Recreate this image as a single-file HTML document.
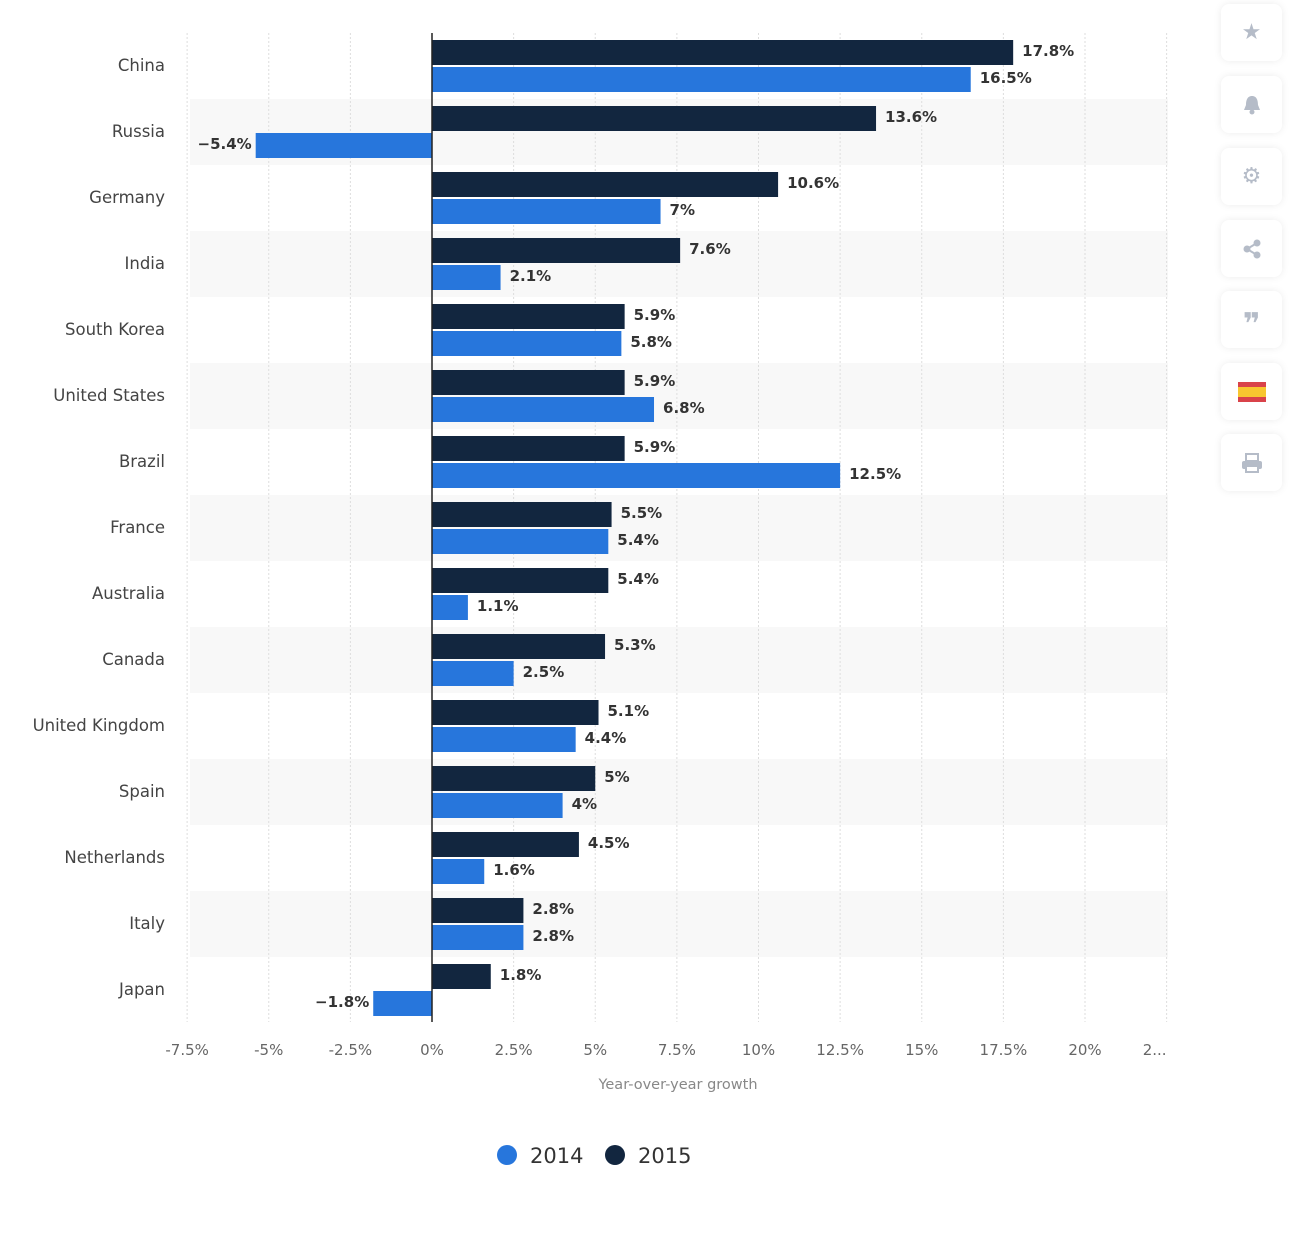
<!DOCTYPE html>
<html><head><meta charset="utf-8"><style>
body{margin:0;background:#fff;width:1296px;height:1233px;overflow:hidden;font-family:"DejaVu Sans",sans-serif}
.btn{position:absolute;left:1221px;width:61px;height:57px;background:#fff;border-radius:8px;box-shadow:0 0 8px rgba(0,0,0,0.08);display:flex;align-items:center;justify-content:center;color:#b5bcc8;font-size:22px}
</style></head><body>
<svg id="chart" width="1210" height="1233" style="position:absolute;left:0;top:0;font-family:'DejaVu Sans',sans-serif"></svg>
<div class="btn" style="top:4px">★</div>
<div class="btn" style="top:76px"><svg width="20" height="22"><path d="M10 2C5 2 4 7 4 11L2 16H18L16 11C16 7 15 2 10 2Z" fill="#b5bcc8"/><circle cx="10" cy="18" r="2.5" fill="#b5bcc8"/></svg></div>
<div class="btn" style="top:148px">⚙</div>
<div class="btn" style="top:220px"><svg width="20" height="20"><circle cx="15" cy="4" r="3.5" fill="#b5bcc8"/><circle cx="5" cy="10" r="3.5" fill="#b5bcc8"/><circle cx="15" cy="16" r="3.5" fill="#b5bcc8"/><path d="M15 4L5 10L15 16" stroke="#b5bcc8" stroke-width="2" fill="none"/></svg></div>
<div class="btn" style="top:291px;font-weight:bold;font-size:30px;padding-top:10px;box-sizing:border-box">❞</div>
<div class="btn" style="top:363px"><svg width="28" height="20"><rect width="28" height="20" fill="#d9434a"/><rect y="5" width="28" height="10" fill="#f8c630"/></svg></div>
<div class="btn" style="top:434px"><svg width="22" height="20"><rect x="5" y="1" width="12" height="7" fill="none" stroke="#b5bcc8" stroke-width="2"/><rect x="1" y="8" width="20" height="8" rx="2" fill="#b5bcc8"/><rect x="5" y="13" width="12" height="6" fill="#fff" stroke="#b5bcc8" stroke-width="2"/></svg></div>
<script>
const categories=["China","Russia","Germany","India","South Korea","United States","Brazil","France","Australia","Canada","United Kingdom","Spain","Netherlands","Italy","Japan"];
const values2015=[17.8,13.6,10.6,7.6,5.9,5.9,5.9,5.5,5.4,5.3,5.1,5,4.5,2.8,1.8];
const values2014=[16.5,-5.4,7,2.1,5.8,6.8,12.5,5.4,1.1,2.5,4.4,4,1.6,2.8,-1.8];
const ticks=[-7.5,-5,-2.5,0,2.5,5,7.5,10,12.5,15,17.5,20,22.5];
const tickLabels=["-7.5%","-5%","-2.5%","0%","2.5%","5%","7.5%","10%","12.5%","15%","17.5%","20%","2..."];
const svg=document.getElementById('chart');const NS='http://www.w3.org/2000/svg';
const x=v=>432+v*32.65;const rowTop=i=>33+i*66;
function mk(t,a,p){const e=document.createElementNS(NS,t);for(const k in a)e.setAttribute(k,a[k]);(p||svg).appendChild(e);return e;}
const fmt=v=>(v<0?'\u2212':'')+Math.abs(v)+'%';
categories.forEach((c,i)=>{if(i%2==1){const b=mk('rect',{x:190,y:rowTop(i),width:978,height:66,fill:'#f8f8f8'});

}});
ticks.forEach((t,i)=>{if(t!==0){const g=mk('line',{x1:x(t),x2:x(t),y1:33,y2:1022,stroke:'#ddd','stroke-dasharray':'2,2'});

}
const l=mk('text',{x:x(t)-(i==ticks.length-1?12:0),y:1055,'text-anchor':'middle','font-size':15,fill:'#666'});l.textContent=tickLabels[i];

});
categories.forEach((c,i)=>{
const t=mk('text',{x:165,y:rowTop(i)+38,'text-anchor':'end','font-size':16.5,fill:'#444'});t.textContent=c;


[[values2015[i],'#12263f',7,'bar-2015'],[values2014[i],'#2776dc',34,'bar-2014']].forEach(([v,col,off,nm])=>{
const x0=Math.min(x(0),x(v)),w=Math.abs(x(v)-x(0));
const r=mk('rect',{x:x0,y:rowTop(i)+off,width:w,height:25,fill:col});


const lb=mk('text',{x:v<0?x0-4:x0+w+9,y:rowTop(i)+off+16,'text-anchor':v<0?'end':'start','font-size':15,'font-weight':'bold',fill:'#333'});lb.textContent=fmt(v);

});});
const ax=mk('line',{x1:x(0),x2:x(0),y1:33,y2:1022,stroke:'#222','stroke-width':1.5});


const at=mk('text',{x:678,y:1089,'text-anchor':'middle','font-size':14.5,fill:'#888'});at.textContent='Year-over-year growth';


[[507,'#2776dc','2014'],[615,'#12263f','2015']].forEach(([cx,col,t])=>{
const g=mk('g',{});
mk('circle',{cx:cx,cy:1155,r:10,fill:col},g);
const tx=mk('text',{x:cx+23,y:1163,'font-size':21,fill:'#333'},g);tx.textContent=t;});
</script>
</body></html>
